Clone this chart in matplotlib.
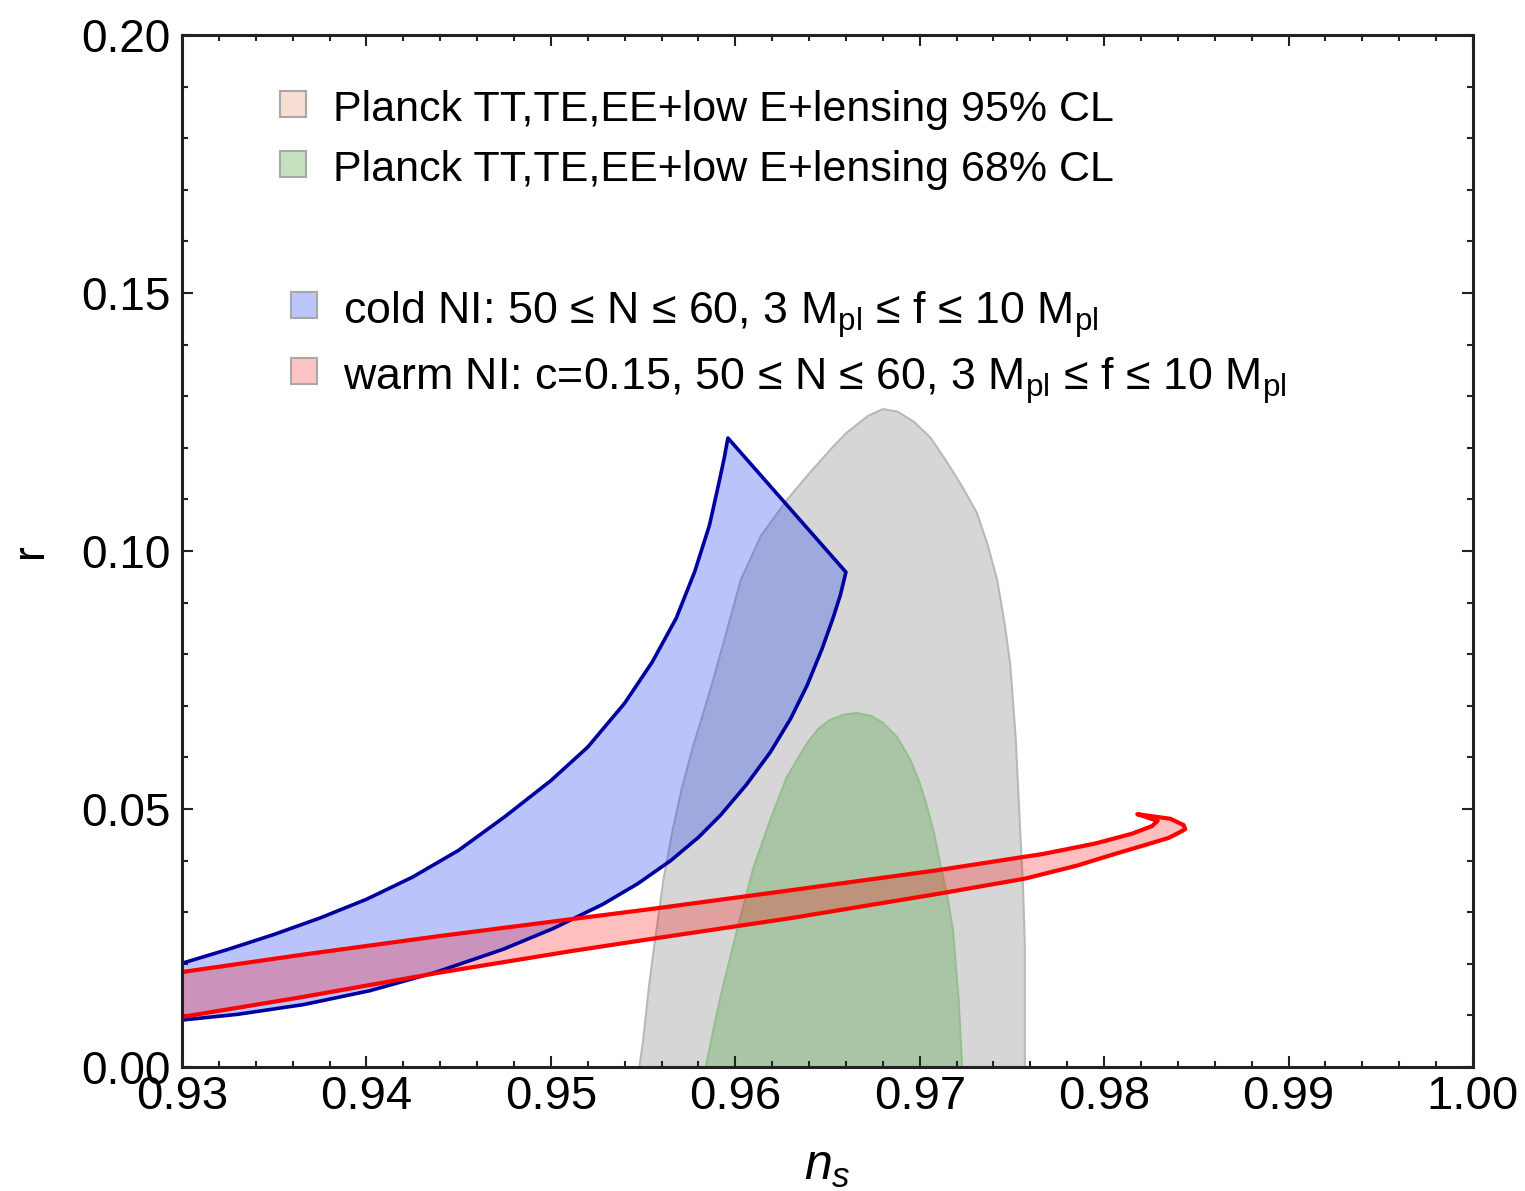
import numpy as np
import matplotlib
matplotlib.use("Agg")
import matplotlib.pyplot as plt
from matplotlib.patches import Rectangle
from matplotlib.ticker import MultipleLocator, FormatStrFormatter

plt.rcParams['font.family'] = ['Liberation Sans', 'DejaVu Sans']
plt.rcParams['mathtext.fontset'] = 'custom'
plt.rcParams['mathtext.rm'] = 'Liberation Sans'
plt.rcParams['mathtext.it'] = 'Liberation Sans:italic'

# Planck 95% CL contour (ns, r), clockwise from bottom left
planck95_ns = [0.9548, 0.9550, 0.9553, 0.9556, 0.9561, 0.9566, 0.9571, 0.9577, 0.9583,
               0.9588, 0.9593, 0.9603, 0.9614, 0.9628, 0.9640, 0.9653, 0.9660, 0.9672,
               0.9680, 0.9688, 0.9697, 0.9706, 0.9715, 0.9723, 0.9731, 0.9737, 0.9742,
               0.9746, 0.9749, 0.9752, 0.9754, 0.9756, 0.9757, 0.9757, 0.9757]
planck95_r = [0.0000, 0.0050, 0.0150, 0.0233, 0.0362, 0.0459, 0.0540, 0.0620, 0.0690,
              0.0750, 0.0814, 0.0944, 0.1030, 0.1099, 0.1150, 0.1202, 0.1228, 0.1262,
              0.1275, 0.1270, 0.1250, 0.1219, 0.1171, 0.1125, 0.1074, 0.1010, 0.0944,
              0.0860, 0.0783, 0.0640, 0.0492, 0.0350, 0.0233, 0.0100, 0.0000]

# Planck 68% CL contour
planck68_ns = [0.9584, 0.9588, 0.9592, 0.9601, 0.9610, 0.9619, 0.9628, 0.9639, 0.9645,
               0.9651, 0.9659, 0.9666, 0.9674, 0.9680, 0.9688, 0.9695, 0.9700, 0.9704,
               0.9708, 0.9711, 0.9715, 0.9718, 0.9721, 0.9722, 0.9723]
planck68_r = [0.0000, 0.0070, 0.0136, 0.0266, 0.0388, 0.0479, 0.0562, 0.0628, 0.0655,
              0.0672, 0.0683, 0.0686, 0.0680, 0.0667, 0.0638, 0.0595, 0.0550, 0.0504,
              0.0450, 0.0395, 0.0330, 0.0266, 0.0136, 0.0070, 0.0000]

# cold NI: upper edge (left -> tip), then lower edge (right corner -> left)
cold_upper_ns = [0.9300, 0.9325, 0.9350, 0.9375, 0.9400, 0.9425, 0.9450, 0.9475, 0.9500,
                 0.9520, 0.9540, 0.9555, 0.9568, 0.9578, 0.9586, 0.9591, 0.9594, 0.9596]
cold_upper_r = [0.0201, 0.0228, 0.0257, 0.0289, 0.0325, 0.0368, 0.0420, 0.0485, 0.0555,
                0.0620, 0.0705, 0.0785, 0.0870, 0.0960, 0.1050, 0.1130, 0.1180, 0.1219]
cold_lower_ns = [0.9660, 0.9657, 0.9653, 0.9647, 0.9639, 0.9630, 0.9619, 0.9606, 0.9592,
                 0.9580, 0.9565, 0.9547, 0.9528, 0.9501, 0.9474, 0.9438, 0.9402, 0.9366,
                 0.9330, 0.9300]
cold_lower_r = [0.0959, 0.0915, 0.0870, 0.0810, 0.0740, 0.0675, 0.0610, 0.0547, 0.0488,
                0.0445, 0.0400, 0.0355, 0.0315, 0.0268, 0.0228, 0.0184, 0.0148, 0.0121,
                0.0102, 0.0091]

# warm NI (c=0.15): upper edge with the hook at the end, then lower edge back
warm_upper_ns = [0.9300, 0.9366, 0.9438, 0.9510, 0.9554, 0.9631, 0.9709, 0.9767, 0.9795,
                 0.9815, 0.9826, 0.9829, 0.9818, 0.9836, 0.9843, 0.9844]
warm_upper_r = [0.0184, 0.0218, 0.0253, 0.0286, 0.0306, 0.0343, 0.0381, 0.0413, 0.0433,
                0.0452, 0.0467, 0.0477, 0.0490, 0.0481, 0.0469, 0.0461]
warm_lower_ns = [0.9840, 0.9835, 0.9822, 0.9805, 0.9785, 0.9757, 0.9709, 0.9631, 0.9554,
                 0.9510, 0.9438, 0.9366, 0.9300]
warm_lower_r = [0.0453, 0.0444, 0.0430, 0.0412, 0.0390, 0.0365, 0.0335, 0.0289, 0.0248,
                0.0224, 0.0182, 0.0136, 0.0097]

legend_planck = ["Planck TT,TE,EE+low E+lensing 95% CL",
                 "Planck TT,TE,EE+low E+lensing 68% CL"]
legend_models = [r"cold NI: 50 ≤ N ≤ 60, 3 M$_\mathregular{pl}$ ≤ f ≤ 10 M$_\mathregular{pl}$",
                 r"warm NI: c=0.15, 50 ≤ N ≤ 60, 3 M$_\mathregular{pl}$ ≤ f ≤ 10 M$_\mathregular{pl}$"]

W, H = 1525, 1191
fig = plt.figure(figsize=(W / 100, H / 100), dpi=100)
ax = fig.add_axes([182 / W, 1 - 1067 / H, (1473 - 182) / W, (1067 - 35) / H])

ax.fill(planck95_ns, planck95_r, facecolor='#d6d6d6', edgecolor='#b8b8b8', lw=1.5)
ax.fill(planck68_ns, planck68_r, facecolor='#a9c5a6', edgecolor='#93c08c', lw=1.5)

cold_ns = cold_upper_ns + cold_lower_ns
cold_r = cold_upper_r + cold_lower_r
ax.fill(cold_ns, cold_r, facecolor=(0.16, 0.29, 0.94, 0.32), edgecolor='none')
ax.plot(cold_ns, cold_r, color='#0000a0', lw=2.6, solid_joinstyle='round')

warm_ns = warm_upper_ns + warm_lower_ns
warm_r = warm_upper_r + warm_lower_r
ax.fill(warm_ns, warm_r, facecolor=(1.0, 0.0, 0.0, 0.25), edgecolor='none')
ax.plot(warm_ns, warm_r, color='#ff0000', lw=3.0, solid_joinstyle='round')

ax.set_xlim(0.93, 1.00)
ax.set_ylim(0.0, 0.20)
ax.xaxis.set_major_locator(MultipleLocator(0.01))
ax.xaxis.set_minor_locator(MultipleLocator(0.002))
ax.yaxis.set_major_locator(MultipleLocator(0.05))
ax.yaxis.set_minor_locator(MultipleLocator(0.01))
ax.xaxis.set_major_formatter(FormatStrFormatter('%.2f'))
ax.yaxis.set_major_formatter(FormatStrFormatter('%.2f'))
ax.tick_params(which='both', direction='in', top=True, right=True, width=1.5, color='#222222')
ax.tick_params(which='major', length=8)
ax.tick_params(which='minor', length=4.5)
ax.tick_params(axis='x', labelsize=34, pad=6)
ax.tick_params(axis='y', labelsize=33, pad=8)
for s in ax.spines.values():
    s.set_linewidth(2.2)
    s.set_color('#222222')

ax.set_xlabel('$n_s$', fontsize=36, labelpad=18)
ax.set_ylabel('r', fontsize=32, labelpad=22)

# legends, placed in figure pixels
sq = 26
legend_boxes = [('#f7dcd2', 293, 104, 333, 121), ('#c3e2bd', 293, 164, 333, 181)]
for (fc, cx, cy, tx, ty), label in zip(legend_boxes, legend_planck):
    fig.patches.append(Rectangle(((cx - sq / 2) / W, 1 - (cy + sq / 2) / H), sq / W, sq / H,
                                 transform=fig.transFigure, facecolor=fc,
                                 edgecolor='#a8a8a8', lw=1.5))
    fig.text(tx / W, 1 - ty / H, label, fontsize=31, va='baseline', ha='left')

model_boxes = [('#bcc6fa', 304, 305, 343, 324), ('#fcc4c4', 304, 371, 343, 390)]
for (fc, cx, cy, tx, ty), label in zip(model_boxes, legend_models):
    fig.patches.append(Rectangle(((cx - sq / 2) / W, 1 - (cy + sq / 2) / H), sq / W, sq / H,
                                 transform=fig.transFigure, facecolor=fc,
                                 edgecolor='#a8a8a8', lw=1.5))
    fig.text(tx / W, 1 - ty / H, label, fontsize=32.2, va='baseline', ha='left')

fig.savefig('out.png', dpi=100)
